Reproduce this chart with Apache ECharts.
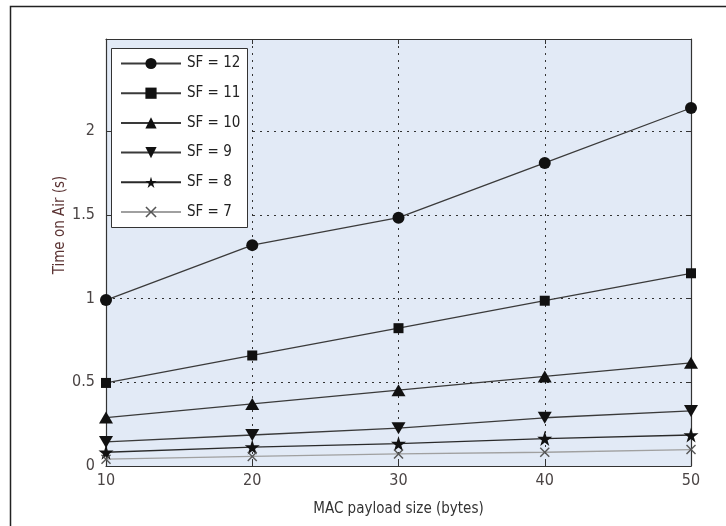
<!DOCTYPE html>
<html><head><meta charset="utf-8">
<script src="https://cdn.jsdelivr.net/npm/echarts@6/dist/echarts.min.js"></script>
<style>html,body{margin:0;padding:0;background:#fff}#c{width:726px;height:526px}</style>
</head><body><div id="c"></div>
<script>
// ---- data ----
const payload = [10, 20, 30, 40, 50];
const sf12 = [0.991, 1.319, 1.483, 1.810, 2.138];
const sf11 = [0.496, 0.660, 0.823, 0.987, 1.151];
const sf10 = [0.289, 0.371, 0.453, 0.535, 0.616];
const sf9  = [0.144, 0.185, 0.226, 0.288, 0.329];
const sf8  = [0.082, 0.113, 0.134, 0.164, 0.185];
const sf7  = [0.041, 0.057, 0.072, 0.082, 0.098];
const seriesNames = ['SF = 12', 'SF = 11', 'SF = 10', 'SF = 9', 'SF = 8', 'SF = 7'];
const xTicks = [10, 20, 30, 40, 50];
const yTicks = [0, 0.5, 1, 1.5, 2];
const xTitle = 'MAC payload size (bytes)';
const yTitle = 'Time on Air (s)';

// ---- styles ----
const FONT = "'Liberation Sans Narrow','DejaVu Sans Condensed',sans-serif";
const FS = 15;
const STAR = 'path://M50,0 L61,35 L98,35 L68,57 L79,91 L50,70 L21,91 L32,57 L2,35 L39,35 Z';
const TRI_DOWN = 'path://M0,0 L100,0 L50,87 Z';
const CROSS = 'path://M0,1 L1,0 L5,4 L9,0 L10,1 L6,5 L10,9 L9,10 L5,6 L1,10 L0,9 L4,5 Z';
const AX = '#333';
const LBL = '#4a4444';

function mk(name, vals, symbol, size, lineColor, markColor) {
  return {
    name: name, type: 'line',
    data: payload.map((x, i) => [x, vals[i]]),
    symbol: symbol, symbolSize: size, showAllSymbol: true, clip: false,
    lineStyle: { color: lineColor, width: 1.3 },
    itemStyle: { color: markColor },
    emphasis: { disabled: true },
    animation: false
  };
}

const chart = echarts.init(document.getElementById('c'), null, { renderer: 'canvas' });
const commonLabel = { color: LBL, fontSize: 16, fontFamily: FONT };

chart.setOption({
  animation: false,
  grid: { left: 106, right: 35, top: 39, bottom: 60, show: true, backgroundColor: '#e2eaf6', borderWidth: 0 },
  legend: {
    data: seriesNames, orient: 'vertical', left: 120, top: 56, padding: 0,
    itemWidth: 60, itemHeight: 14, itemGap: 14.7,
    textStyle: { fontSize: FS, fontFamily: FONT, color: '#222', padding: [0, 0, 0, 1] },
    selectedMode: false
  },
  graphic: [
    { type: 'rect', shape: { x: 10.5, y: 6.5, width: 760, height: 560 }, style: { fill: 'none', stroke: '#222', lineWidth: 1.5 }, z: 0 },
    { type: 'rect', shape: { x: 111.5, y: 48.5, width: 136, height: 179 }, style: { fill: '#fff', stroke: '#333', lineWidth: 1 }, z: 3 },
    { type: 'text', x: 60, y: 225, rotation: Math.PI / 2,
      style: { text: yTitle, fontSize: FS, fontFamily: FONT, fill: '#5c3434', align: 'center', verticalAlign: 'middle' }, z: 3 }
  ],
  xAxis: [
    { type: 'value', min: 10, max: 50, interval: 10, position: 'bottom',
      axisLine: { show: true, onZero: false, lineStyle: { color: AX, width: 1.2 } },
      axisTick: { show: true, inside: true, length: 5, lineStyle: { color: AX }, customValues: xTicks },
      axisLabel: Object.assign({ margin: 7, customValues: xTicks }, commonLabel),
      splitLine: { show: true, lineStyle: { color: AX, type: [2, 5], width: 1 } },
      name: xTitle, nameLocation: 'middle', nameGap: 36,
      nameTextStyle: { fontSize: FS, fontFamily: FONT, color: '#333' } },
    { type: 'value', min: 10, max: 50, interval: 10, position: 'top',
      axisLine: { show: true, onZero: false, lineStyle: { color: AX, width: 1.2 } },
      axisTick: { show: true, inside: true, length: 5, lineStyle: { color: AX }, customValues: xTicks },
      axisLabel: { show: false }, splitLine: { show: false } }
  ],
  yAxis: [
    { type: 'value', min: 0, max: 2.55, position: 'left',
      axisLine: { show: true, onZero: false, lineStyle: { color: AX, width: 1.2 } },
      axisTick: { show: true, inside: true, length: 5, lineStyle: { color: AX }, customValues: yTicks },
      axisLabel: Object.assign({ margin: 11, customValues: yTicks }, commonLabel),
      splitLine: { show: true, lineStyle: { color: AX, type: [2, 5], width: 1 } } },
    { type: 'value', min: 0, max: 2.55, position: 'right',
      axisLine: { show: true, onZero: false, lineStyle: { color: AX, width: 1.2 } },
      axisTick: { show: true, inside: true, length: 5, lineStyle: { color: AX }, customValues: yTicks },
      axisLabel: { show: false }, splitLine: { show: false } }
  ],
  series: [
    mk(seriesNames[0], sf12, 'circle', 12, '#3a3a3a', '#111'),
    mk(seriesNames[1], sf11, 'rect', 10, '#3a3a3a', '#111'),
    mk(seriesNames[2], sf10, 'triangle', [14, 12], '#3a3a3a', '#111'),
    mk(seriesNames[3], sf9, TRI_DOWN, [14, 12], '#3a3a3a', '#111'),
    mk(seriesNames[4], sf8, STAR, 15, '#2a2a2a', '#111'),
    mk(seriesNames[5], sf7, CROSS, 10, '#a0a0a0', '#555')
  ]
});
</script></body></html>
